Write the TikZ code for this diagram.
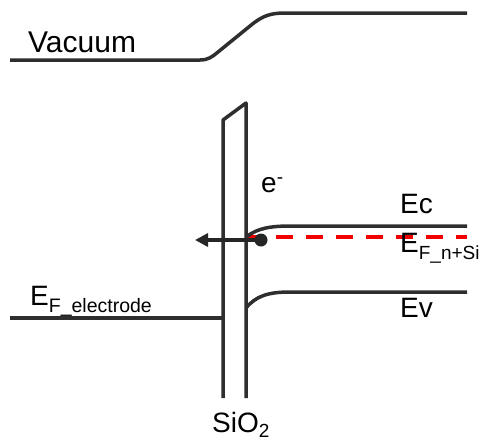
\documentclass[tikz,border=0pt]{standalone}
\usepackage{fontspec}
\setmainfont{Liberation Sans}
\usetikzlibrary{arrows.meta}
\begin{document}
\begin{tikzpicture}[x=1pt,y=-1pt,
  band/.style={line width=3.5pt, draw=black!82, line join=round},
  lbl/.style={inner sep=0pt, anchor=base west, font=\fontsize{28}{30}\selectfont},
  fermi/.style={line width=3.5pt, draw=red!95!black, dash pattern=on 17pt off 13pt}]
\useasboundingbox (0,0) rectangle (486,445);
% vacuum level
\draw[band] (10,60) -- (200,60) .. controls (208,60) and (212,57) .. (218,52) -- (250,26)
  .. controls (262,16) and (270,13) .. (285,13) -- (467,13);
\node[lbl, font=\fontsize{30}{32}\selectfont] (vac) at (28,52) {Vacuum};
% oxide barrier
\draw[band] (223,398) -- (223,120) -- (246,103) -- (246,398);
\node[lbl] (sio) at (212,432) {SiO\raisebox{-5pt}{\fontsize{19}{20}\selectfont 2}};
% electrode Fermi level
\draw[band] (10,318) -- (223,318);
\node[lbl] (efel) at (30,305) {E\raisebox{-7pt}{\fontsize{19.5}{20}\selectfont F\_electrode}};
% semiconductor bands
\draw[fermi] (246,237) -- (467,237);
\draw[band] (246,237) .. controls (258,228) and (270,226) .. (292,226) -- (467,226);
\draw[band] (246,308) .. controls (256,296) and (268,292) .. (290,292) -- (467,292);
\node[lbl] (ec) at (400,213) {Ec};
\node[lbl] (efsi) at (400,252) {E\raisebox{-7pt}{\fontsize{19}{20}\selectfont F\_n+Si}};
\node[lbl] (ev) at (400,317) {Ev};
% electron
\node[lbl] (elab) at (261,192) {e\raisebox{9pt}{\fontsize{19}{20}\selectfont -}};
\node[circle, fill=black!85, inner sep=0pt, minimum size=13pt] (dot) at (261,240) {};
\coordinate (tip) at (195,240);
\draw[line width=3.5pt, draw=black!85, -{Triangle[length=13pt,width=13pt]}] (dot.center) -- (tip);
\end{tikzpicture}
\end{document}
